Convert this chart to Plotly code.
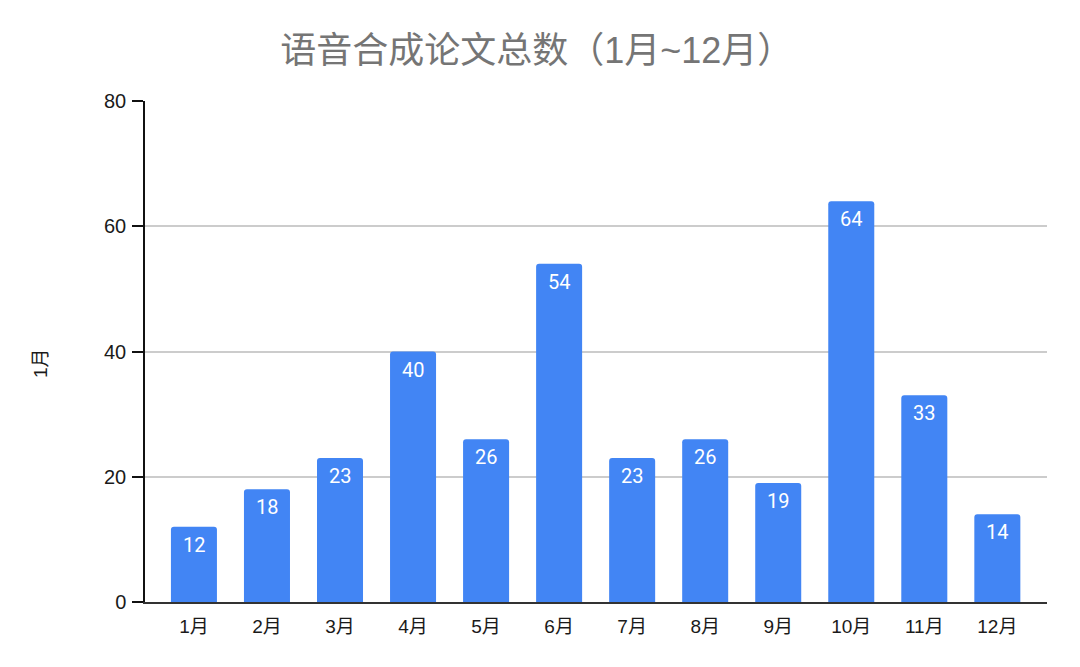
import plotly.graph_objects as go

months = ["1月", "2月", "3月", "4月", "5月", "6月", "7月", "8月", "9月", "10月", "11月", "12月"]
counts = [12, 18, 23, 40, 26, 54, 23, 26, 19, 64, 33, 14]
y_ticks = [0, 20, 40, 60, 80]
title_text = "语音合成论文总数（1月~12月）"
y_title = "1月"

BASE_FONT = "Liberation Sans, Arial, Noto Sans CJK SC, sans-serif"

fig = go.Figure()
fig.add_trace(go.Bar(
    x=months, y=counts,
    marker=dict(color="#4285F4", cornerradius=3, line=dict(width=0)),
    width=0.63,
    hoverinfo="skip",
))

for m, v in zip(months, counts):
    fig.add_annotation(
        x=m, y=v, xref="x", yref="y", text=str(v), showarrow=False,
        yanchor="top", yshift=-4,
        font=dict(family="Roboto, sans-serif", size=20, color="white"),
    )

# y-axis title placed as rotated annotation
fig.add_annotation(
    x=-0.1164, y=0.477, xref="paper", yref="paper", text=y_title, showarrow=False,
    textangle=-90, xanchor="center", yanchor="middle",
    font=dict(family=BASE_FONT, size=19, color="#1a1a1a"),
)

fig.update_layout(
    width=1080, height=667,
    margin=dict(l=145, r=33, t=101, b=65),
    plot_bgcolor="white", paper_bgcolor="white",
    showlegend=False,
    font=dict(family=BASE_FONT, size=19, color="#1a1a1a"),
    title=dict(text=title_text, x=0.497, xanchor="center", y=0.925, yanchor="middle",
               font=dict(family=BASE_FONT, size=36, color="#757575")),
    xaxis=dict(
        type="category", range=[-0.67, 11.68],
        showgrid=False, ticks="", showline=True, linecolor="#333333", linewidth=1.5,
        tickfont=dict(size=19, color="#1a1a1a"),
        ticklabelstandoff=6,
    ),
    yaxis=dict(
        range=[0, 80], tickvals=y_ticks,
        showgrid=True, gridcolor="#cccccc", gridwidth=1.5,
        zeroline=False,
        showline=True, linecolor="#111111", linewidth=1.5,
        ticks="outside", ticklen=11, tickcolor="#111111", tickwidth=1.5,
        ticklabelstandoff=2,
        tickfont=dict(size=20, color="#1a1a1a"),
    ),
)

fig.write_html("out.html")
